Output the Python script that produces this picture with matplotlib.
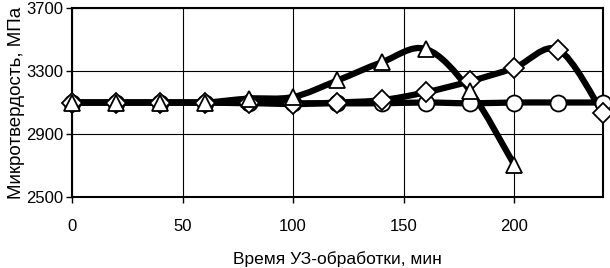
import matplotlib.pyplot as plt
from matplotlib.path import Path
from matplotlib.patches import PathPatch

plt.rcParams['font.family'] = ['Liberation Sans', 'DejaVu Sans']

# время УЗ-обработки, мин
t_circ = [0, 20, 40, 60, 80, 100, 120, 140, 160, 180, 200, 220, 240]
hv_circ = [3100, 3100, 3100, 3100, 3095, 3095, 3095, 3095, 3100, 3095, 3100, 3100, 3100]

t_diam = [0, 20, 40, 60, 80, 100, 120, 140, 160, 180, 200, 220, 240]
hv_diam = [3100, 3100, 3100, 3100, 3100, 3090, 3100, 3115, 3165, 3235, 3320, 3435, 3035]

t_tri = [0, 20, 40, 60, 80, 100, 120, 140, 160, 180, 200]
hv_tri = [3100, 3100, 3100, 3100, 3125, 3135, 3240, 3355, 3440, 3175, 2705]


def smooth_path(xs, ys):
    # кривые Безье как у сглаженной линии Excel
    pts = list(zip(xs, ys))
    verts = [pts[0]]
    codes = [Path.MOVETO]
    n = len(pts)
    for i in range(n - 1):
        p0 = pts[i - 1] if i > 0 else pts[i]
        p1 = pts[i]
        p2 = pts[i + 1]
        p3 = pts[i + 2] if i + 2 < n else pts[i + 1]
        c1 = (p1[0] + (p2[0] - p0[0]) / 6, p1[1] + (p2[1] - p0[1]) / 6)
        c2 = (p2[0] - (p3[0] - p1[0]) / 6, p2[1] - (p3[1] - p1[1]) / 6)
        verts += [c1, c2, p2]
        codes += [Path.CURVE4] * 3
    return Path(verts, codes)


fig = plt.figure(figsize=(6.1, 2.68), dpi=100)
ax = fig.add_axes([0.118, 0.265, 0.870, 0.705])

for xs, ys, m in [(t_circ, hv_circ, 'o'), (t_diam, hv_diam, 'D'), (t_tri, hv_tri, '^')]:
    ax.add_patch(PathPatch(smooth_path(xs, ys), fill=False, lw=4.5,
                           edgecolor='black', capstyle='round', joinstyle='round'))
    ms = 10 if m == 'D' else 11.5
    ax.plot(xs, ys, linestyle='none', marker=m, ms=ms, mfc='white',
            mec='black', mew=1.3, clip_on=False, zorder=3)

ax.set_xlim(0, 240)
ax.set_ylim(2500, 3700)
ax.set_xticks([0, 50, 100, 150, 200])
ax.set_yticks([2500, 2900, 3300, 3700])
ax.grid(True, color='black', lw=0.8)
ax.set_axisbelow(True)
for s in ax.spines.values():
    s.set_linewidth(1.5)
ax.tick_params(direction='out', length=4, width=1, labelsize=12, pad=12)
ax.tick_params(axis='y', pad=2)

ax.set_xlabel('Время УЗ-обработки, мин', fontsize=12.5, labelpad=12)
ax.set_ylabel('Микротвердость, МПа', fontsize=13.5, labelpad=1)

fig.savefig('out.png', dpi=100)
